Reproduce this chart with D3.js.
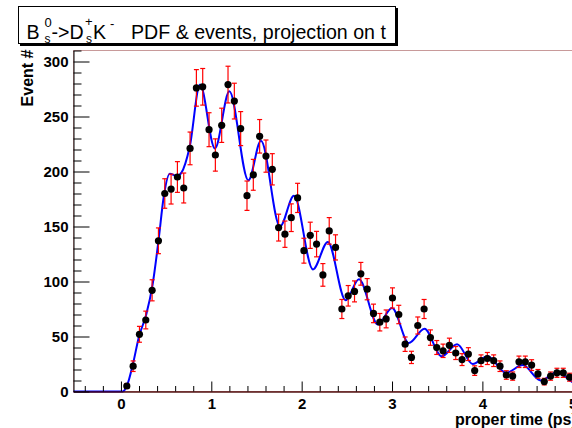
<!DOCTYPE html>
<html><head><meta charset="utf-8">
<script src="https://cdn.jsdelivr.net/npm/d3@7"></script>
<style>
html,body{margin:0;padding:0;background:#fff;}
svg{display:block;font-family:"Liberation Sans",Arial,Helvetica,sans-serif;}
</style></head><body>
<svg id="chart" width="572" height="428"></svg>
<script>
// Binned decay-time data: bin centres (ps) and event counts
const binTimes = [0.065,0.135,0.205,0.275,0.345,0.415,0.485,0.555,0.625,0.695,
  0.765,0.835,0.905,0.975,1.045,1.115,1.185,1.255,1.325,1.395,
  1.465,1.535,1.605,1.675,1.745,1.815,1.885,1.955,2.025,2.095,
  2.165,2.235,2.305,2.375,2.445,2.515,2.585,2.655,2.725,2.795,
  2.865,2.935,3.005,3.075,3.145,3.215,3.285,3.355,3.425,3.495,
  3.565,3.635,3.705,3.775,3.845,3.915,3.985,4.055,4.125,4.195,
  4.265,4.335,4.405,4.475,4.545,4.615,4.685,4.755,4.825,4.895,4.965];
const eventCounts = [5,23,52,65,92,137,180,184,195,185,
  221,276,277,238,215,242,279,264,239,178,
  197,232,214,202,149,143,158,176,128,142,
  134,106,146,131,75,87,91,107,93,71,
  63,66,85,70,43,31,60,75,49,40,
  37,42,35,29,34,19,28,30,28,23,
  15,14,27,27,24,16,9,14,17,17,13];

// Fitted PDF projection, sampled at its turning points
const pdfTimes = [-0.525,0.02,0.07,0.13,0.2,0.28,0.35,0.42,0.47,0.54,0.62,0.67,0.76,0.875,
  1.04,1.2,1.41,1.55,1.76,1.915,2.125,2.29,2.486,2.634,2.843,3.0,3.186,3.359,3.55,3.72,
  3.893,4.059,4.262,4.446,4.648,4.832,5.02,5.19,5.3];
const pdfValues = [0,0,6,24,50,70,97,140,175,198,196,199,222,279,
  221,273,192,228,150,178,111,136,83,102,61,76,44,57,32,43,
  25,32,17,24,10,18,8,14,12];

const xTickValues = [0,1,2,3,4,5];
const xTickLabels = ["0","1","2","3","4","5"];
const yTickValues = [0,50,100,150,200,250,300];
const yTickLabels = ["0","50","100","150","200","250","300"];

const svg = d3.select("#chart");
const x = d3.scaleLinear().domain([-0.525, 5.3]).range([73.5, 73.5 + 5.825 * 90.36]);
const y = d3.scaleLinear().domain([0, 310]).range([391.5, 50.5]);
const [x0, x1] = x.range();
const [yb, yt] = y.range();

// frame
svg.append("rect")
  .attr("x", x0).attr("y", yt).attr("width", x1 - x0).attr("height", yb - yt)
  .attr("fill", "none").attr("stroke", "#c89a9a").attr("stroke-width", 1);

// PDF curve
const pdfLine = d3.line()
  .x(d => x(d[0])).y(d => y(d[1]))
  .curve(d3.curveMonotoneX);
svg.append("path")
  .datum(pdfTimes.map((t, i) => [t, pdfValues[i]]))
  .attr("d", pdfLine)
  .attr("fill", "none").attr("stroke", "#0000ff").attr("stroke-width", 2);

// empty-bin error line along zero
svg.append("line")
  .attr("x1", x0).attr("x2", x1).attr("y1", yb + 0.5).attr("y2", yb + 0.5)
  .attr("stroke", "#ff0000").attr("stroke-opacity", 0.5).attr("stroke-width", 1.5);

// axes
function styleAxis(g) {
  g.selectAll("path.domain").attr("stroke", "#000").attr("stroke-width", 1);
  g.selectAll(".tick line").attr("stroke", "#000").attr("stroke-width", 1);
  g.selectAll(".tick text").attr("fill", "#000")
    .attr("font-family", "Liberation Sans, Arial, sans-serif")
    .attr("font-size", 15).attr("font-weight", "bold");
}
const xMinor = d3.range(-0.4, 5.31, 0.2).filter(v => Math.abs(v - Math.round(v)) > 1e-6);
const yMinor = d3.range(10, 311, 10).filter(v => v % 50 !== 0);

const gxMinor = svg.append("g").attr("transform", `translate(0,${yb})`)
  .call(d3.axisBottom(x).tickValues(xMinor).tickSize(-5.5).tickSizeOuter(0).tickFormat(""));
gxMinor.select("path.domain").remove();
styleAxis(gxMinor);
const gx = svg.append("g").attr("transform", `translate(0,${yb})`)
  .call(d3.axisBottom(x).tickValues(xTickValues).tickSize(-10).tickSizeOuter(0)
    .tickPadding(7).tickFormat((d, i) => xTickLabels[i]));
styleAxis(gx);

const gyMinor = svg.append("g").attr("transform", `translate(${x0},0)`)
  .call(d3.axisLeft(y).tickValues(yMinor).tickSize(-8).tickSizeOuter(0).tickFormat(""));
gyMinor.select("path.domain").remove();
styleAxis(gyMinor);
const gy = svg.append("g").attr("transform", `translate(${x0},0)`)
  .call(d3.axisLeft(y).tickValues(yTickValues).tickSize(-16).tickSizeOuter(0)
    .tickPadding(5).tickFormat((d, i) => yTickLabels[i]));
styleAxis(gy);

// data: Poisson error bars and markers
const pts = binTimes.map((t, i) => ({ t, n: eventCounts[i], e: Math.sqrt(eventCounts[i]) }));
const eb = svg.append("g").attr("stroke", "#ff0000").attr("stroke-width", 1.2).attr("fill", "none");
pts.forEach(p => {
  const cx = x(p.t), ylo = y(p.n - p.e), yhi = y(p.n + p.e);
  eb.append("line").attr("x1", cx).attr("x2", cx).attr("y1", ylo).attr("y2", yhi);
  eb.append("line").attr("x1", cx - 2.5).attr("x2", cx + 2.5).attr("y1", ylo).attr("y2", ylo);
  eb.append("line").attr("x1", cx - 2.5).attr("x2", cx + 2.5).attr("y1", yhi).attr("y2", yhi);
});
svg.append("g").selectAll("circle").data(pts).join("circle")
  .attr("cx", d => x(d.t)).attr("cy", d => y(d.n)).attr("r", 3.6).attr("fill", "#000");

// axis titles
svg.append("text")
  .attr("x", 455).attr("y", 425)
  .attr("font-size", 16).attr("font-weight", "bold").attr("fill", "#000")
  .text("proper time (ps)");
svg.append("text")
  .attr("transform", `translate(33,${yt - 1}) rotate(-90)`)
  .attr("text-anchor", "end")
  .attr("font-size", 16).attr("font-weight", "bold").attr("fill", "#000")
  .text("Event #");

// title box with shadow
svg.append("rect").attr("x", 20).attr("y", 8).attr("width", 378).attr("height", 38).attr("fill", "#000");
svg.append("rect").attr("x", 18.5).attr("y", 6.5).attr("width", 377).attr("height", 37)
  .attr("fill", "#fff").attr("stroke", "#000").attr("stroke-width", 1);

const title = svg.append("g").attr("fill", "#000");
const base = 39;
function piece(str, px, py, size) {
  title.append("text").attr("x", px).attr("y", py).attr("font-size", size).text(str);
}
piece("B", 26.5, base, 19.6);
piece("0", 44.5, base - 12, 13);
piece("s", 44.5, base + 4, 12);
piece("->D", 51.5, base, 19.6);
piece("+", 85, base - 13, 13);
piece("s", 86, base + 4, 12);
piece("K", 93, base, 19.6);
piece("-", 110, base - 11, 13);
piece("PDF & events, projection on t", 131, base, 19.6);
</script>
</body></html>
